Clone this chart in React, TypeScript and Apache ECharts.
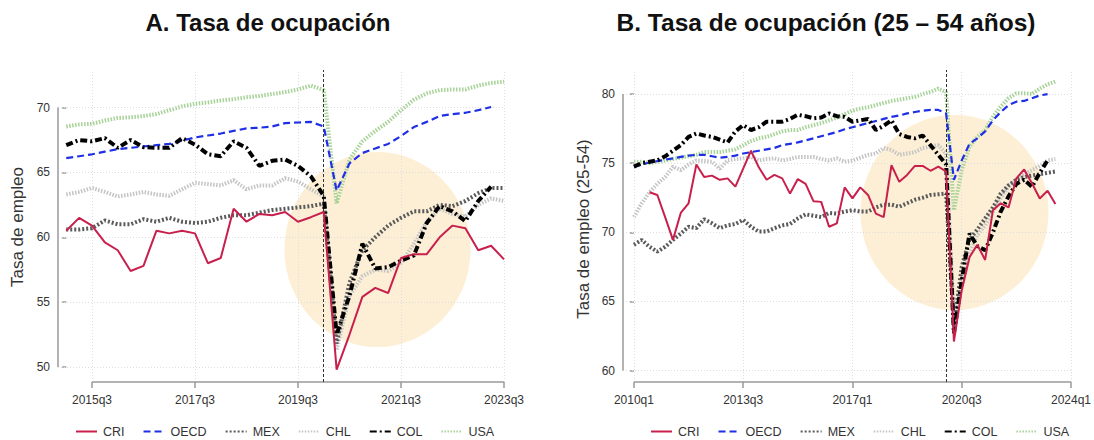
import React, { useEffect, useRef } from "react";
import * as echarts from "echarts";

// ---------- Panel A: 2015q1 .. 2023q3 ----------
const startA = "2015q1";
const endA = "2023q3";
const xTicksA = ["2015q3", "2017q3", "2019q3", "2021q3", "2023q3"];
const yTicksA = [50, 55, 60, 65, 70];

const criA = [60.5, 61.5, 60.9, 59.6, 59.0, 57.4, 57.8, 60.5, 60.3, 60.5, 60.3, 58.0, 58.4, 62.2, 61.2, 61.8, 61.7, 61.95, 61.2, 61.55, 61.95, 49.8, 52.5, 55.4, 56.1, 55.7, 58.4, 58.7, 58.7, 60.0, 60.9, 60.7, 59.0, 59.35, 58.3];
const oecdA = [66.1, 66.25, 66.4, 66.6, 66.8, 66.9, 67.0, 67.1, 67.2, 67.45, 67.7, 67.85, 68.0, 68.2, 68.4, 68.45, 68.55, 68.8, 68.85, 68.9, 68.55, 63.6, 65.7, 66.5, 66.85, 67.2, 67.8, 68.5, 68.9, 69.35, 69.5, 69.6, 69.8, 70.05, null];
const mexA = [60.6, 60.6, 60.7, 61.3, 61.0, 61.0, 61.4, 61.2, 61.5, 61.2, 61.1, 61.2, 61.5, 61.7, 61.7, 61.9, 62.1, 62.2, 62.3, 62.4, 62.6, 51.8, 56.5, 59.0, 60.0, 60.9, 61.5, 62.0, 62.0, 62.5, 62.4, 62.8, 63.4, 63.8, 63.8];
const chlA = [63.3, 63.5, 63.8, 63.5, 63.15, 63.3, 63.5, 63.3, 63.2, 63.7, 64.2, 64.1, 64.0, 64.4, 63.7, 64.0, 64.0, 64.55, 64.3, 63.7, 63.15, 51.3, 55.5, 57.0, 57.5, 57.4, 58.0, 59.5, 61.2, 62.2, 61.8, 61.6, 62.5, 63.0, 62.8];
const colA = [67.1, 67.5, 67.4, 67.65, 66.9, 67.5, 66.95, 66.9, 66.9, 67.65, 67.15, 66.4, 66.25, 67.4, 66.9, 65.5, 65.9, 66.0, 65.5, 64.7, 63.2, 52.5, 55.5, 59.5, 57.6, 57.7, 58.2, 58.6, 61.1, 62.4, 62.0, 61.25, 62.8, 63.9, null];
const usaA = [68.55, 68.7, 68.75, 69.0, 69.2, 69.25, 69.35, 69.5, 69.8, 70.1, 70.3, 70.4, 70.55, 70.65, 70.8, 70.9, 71.05, 71.2, 71.4, 71.7, 71.35, 62.6, 66.0, 67.4, 68.2, 68.9, 69.8, 70.6, 71.1, 71.35, 71.4, 71.4, 71.7, 71.9, 72.0];
const highlightA = { quarter: 24.17, value: 59.06 };

// ---------- Panel B: 2010q1 .. 2023q3 ----------
const startB = "2010q1";
const endB = "2023q3";
const xTicksB = ["2010q1", "2013q3", "2017q1", "2020q3", "2024q1"];
const yTicksB = [60, 65, 70, 75, 80];

const criB = [null, null, 72.9, 72.7, 71.1, 69.45, 71.4, 72.1, 74.9, 74.0, 74.1, 73.8, 73.9, 73.3, 74.6, 75.9, 74.7, 73.8, 74.15, 73.9, 72.8, 73.85, 73.5, 72.25, 72.2, 70.4, 70.65, 73.25, 72.45, 73.25, 72.7, 71.35, 71.1, 74.85, 73.65, 74.15, 74.8, 74.8, 74.45, 74.75, 74.4, 62.1, 65.8, 68.2, 69.1, 68.0, 71.6, 72.1, 71.8, 73.9, 74.55, 73.55, 72.45, 73.0, 72.05];
const oecdB = [74.75, 74.9, 75.05, 75.15, 75.25, 75.35, 75.45, 75.55, 75.6, 75.6, 75.5, 75.4, 75.45, 75.55, 75.7, 75.8, 75.9, 76.0, 76.1, 76.3, 76.4, 76.5, 76.65, 76.8, 76.95, 77.1, 77.25, 77.45, 77.6, 77.75, 77.9, 78.05, 78.2, 78.35, 78.45, 78.6, 78.7, 78.8, 78.85, 78.85, 78.6, 73.8, 75.2, 76.4, 76.8, 77.3, 78.1, 78.7, 79.2, 79.45, 79.5, 79.7, 79.9, 80.0, null];
const mexB = [69.1, 69.45, 68.95, 68.6, 68.95, 69.45, 69.9, 70.4, 70.3, 70.95, 70.65, 70.3, 70.5, 70.6, 70.9, 70.4, 70.05, 70.05, 70.3, 70.5, 70.6, 71.0, 71.3, 71.2, 71.1, 71.4, 71.35, 71.5, 71.6, 71.5, 71.5, 71.8, 72.0, 72.0, 71.85, 72.1, 72.35, 72.5, 72.7, 72.75, 72.8, 63.2, 67.5, 69.5, 70.2, 71.0, 71.8, 72.8, 73.4, 73.8, 74.0, 74.1, 74.2, 74.3, 74.4];
const chlB = [71.1, 72.1, 72.9, 73.5, 74.0, 74.75, 74.5, 74.9, 75.2, 75.15, 75.1, 74.6, 75.2, 75.3, 75.35, 75.45, 75.2, 75.3, 75.35, 75.2, 75.3, 75.45, 75.45, 75.45, 75.3, 75.2, 75.35, 75.1, 75.2, 75.4, 75.6, 75.7, 76.1, 75.95, 75.6, 75.7, 75.8, 76.1, 76.2, 76.3, 75.7, 63.8, 66.0, 68.5, 69.8, 70.5, 71.5, 72.5, 73.3, 73.8, 74.2, 74.5, 74.8, 75.2, 75.3];
const colB = [74.75, 75.0, 75.1, 75.2, 75.5, 75.9, 76.3, 76.9, 77.15, 77.0, 76.9, 76.7, 76.5, 77.3, 77.75, 77.4, 77.6, 78.0, 78.0, 78.0, 78.2, 78.5, 78.4, 78.25, 78.3, 78.6, 78.4, 78.35, 78.0, 78.1, 78.2, 77.4, 77.7, 78.1, 77.1, 76.9, 76.8, 77.0, 76.3, 75.6, 74.9, 62.7, 66.5, 69.9, 69.0, 68.7, 70.0, 71.5, 72.6, 73.5, 73.8, 73.3, 74.3, 75.2, null];
const usaB = [75.1, 75.1, 75.0, 75.1, 75.2, 75.3, 75.4, 75.5, 75.6, 75.8, 75.8, 75.8, 75.9, 76.0, 76.3, 76.6, 76.8, 76.9, 77.1, 77.3, 77.4, 77.4, 77.6, 77.75, 77.9, 78.1, 78.3, 78.55, 78.8, 78.95, 79.05, 79.2, 79.35, 79.5, 79.6, 79.7, 79.8, 80.0, 80.15, 80.4, 80.15, 71.6, 74.5, 76.2, 76.9, 77.4, 78.35, 79.1, 79.7, 80.05, 80.05, 80.0, 80.4, 80.7, 80.9];
const highlightB = { quarter: 41.07, value: 71.43 };

const covidQuarter = "2020q1";
const seriesNames = ["CRI", "OECD", "MEX", "CHL", "COL", "USA"];

// ---------- helpers ----------
const parseQ = (s: string) => {
  const [y, q] = s.split("q").map(Number);
  return { y, q };
};
const qIndex = (label: string, start: string) => {
  const a = parseQ(label);
  const b = parseQ(start);
  return (a.y - b.y) * 4 + (a.q - b.q);
};
const qLabel = (idx: number, start: string) => {
  const b = parseQ(start);
  const n = Math.round(idx) + (b.q - 1);
  return `${b.y + Math.floor(n / 4)}q${(n % 4) + 1}`;
};
const toPairs = (vals: (number | null)[]) => vals.map((v, i) => [i, v]);

const FONT = '"Liberation Sans", Arial, sans-serif';

const styles: Record<string, any> = {
  CRI: { color: "#c8204c", width: 2, type: "solid", z: 9 },
  OECD: { color: "#1f2fe6", width: 2.2, type: [7, 4], z: 7 },
  MEX: { color: "#5a5a5a", width: 4, type: [2, 2], z: 5 },
  CHL: { color: "#c4c4c4", width: 4, type: [1.5, 1.5], z: 4 },
  COL: { color: "#000000", width: 4, type: [7, 3, 2, 3], z: 8 },
  USA: { color: "#a7d298", width: 4, type: [1.5, 1.5], z: 3 },
};

function buildPanel(
  idx: number,
  start: string,
  xTicks: string[],
  yTicks: number[],
  xMin: number,
  xMax: number,
  yMin: number,
  yMax: number,
  data: Record<string, (number | null)[]>,
  highlight: { quarter: number; value: number },
  circleSize: number[]
) {
  const xt = xTicks.map((t) => qIndex(t, start));
  const series: any[] = [];
  series.push({
    type: "scatter",
    xAxisIndex: idx,
    yAxisIndex: idx,
    data: [[highlight.quarter, highlight.value]],
    symbol: "circle",
    symbolSize: circleSize,
    itemStyle: { color: "rgba(249, 212, 138, 0.45)" },
    silent: true,
    z: 1,
  });
  const gridStyle = { color: "#dedede", width: 1, type: [1, 2] };
  const axisStyle = { color: "#9a9a9a", width: 1.5, type: "solid" };
  series.push({
    type: "line",
    xAxisIndex: idx,
    yAxisIndex: idx,
    data: [[xMin, yMin]],
    showSymbol: false,
    lineStyle: { opacity: 0 },
    silent: true,
    clip: false,
    z: 2,
    markLine: {
      symbol: ["none", "none"],
      silent: true,
      animation: false,
      label: { show: false },
      data: [
        ...yTicks.map((v) => ({ yAxis: v, lineStyle: gridStyle })),
        ...xt.map((v) => ({ xAxis: v, lineStyle: gridStyle })),
        [
          { coord: [xt[0], yMin], lineStyle: axisStyle },
          { coord: [xt[xt.length - 1], yMin] },
        ],
        [
          { coord: [xMin, yTicks[0]], lineStyle: axisStyle },
          { coord: [xMin, yTicks[yTicks.length - 1]] },
        ],
      ],
    },
  });
  series.push({
    type: "line",
    xAxisIndex: idx,
    yAxisIndex: idx,
    data: [[xMin, yMin]],
    showSymbol: false,
    lineStyle: { opacity: 0 },
    silent: true,
    z: 6,
    markLine: {
      symbol: ["none", "none"],
      silent: true,
      animation: false,
      label: { show: false },
      data: [{ xAxis: qIndex(covidQuarter, start), lineStyle: { color: "#333", width: 1, type: [3, 2] } }],
    },
  });
  seriesNames.forEach((name) => {
    const s = styles[name];
    series.push({
      name,
      type: "line",
      xAxisIndex: idx,
      yAxisIndex: idx,
      data: toPairs(data[name]),
      showSymbol: false,
      symbol: "none",
      connectNulls: false,
      lineStyle: { color: s.color, width: s.width, type: s.type, cap: "butt" },
      itemStyle: { color: s.color },
      z: s.z,
    });
  });

  const xAxis = {
    gridIndex: idx,
    type: "value",
    min: xMin,
    max: xMax,
    axisLine: { show: false },
    splitLine: { show: false },
    axisTick: { show: true, customValues: xt, length: 6, lineStyle: { color: "#9a9a9a", width: 1.5 } },
    axisLabel: {
      customValues: xt,
      formatter: (v: number) => qLabel(v, start),
      color: "#333",
      fontSize: 12,
      fontFamily: FONT,
      margin: 12,
    },
  };
  const yAxis = {
    gridIndex: idx,
    type: "value",
    min: yMin,
    max: yMax,
    axisLine: { show: false },
    splitLine: { show: false },
    axisTick: { show: true, customValues: yTicks, length: 4, lineStyle: { color: "#9a9a9a", width: 1.5 } },
    axisLabel: {
      customValues: yTicks,
      color: "#333",
      fontSize: 12,
      fontFamily: FONT,
      margin: 8,
    },
  };
  return { series, xAxis, yAxis };
}

export default function App() {
  const ref = useRef<HTMLDivElement>(null);
  useEffect(() => {
    if (!ref.current) return;
    const chart = echarts.init(ref.current, undefined, { renderer: "svg" });
    const pA = buildPanel(
      0, startA, xTicksA, yTicksA, -0.64, qIndex(endA, startA), 48.84, 72.9,
      { CRI: criA, OECD: oecdA, MEX: mexA, CHL: chlA, COL: colA, USA: usaA },
      highlightA, [186, 195]
    );
    const pB = buildPanel(
      1, startB, xTicksB, yTicksB, -1.4, qIndex("2024q1", startB), 59.17, 81.74,
      { CRI: criB, OECD: oecdB, MEX: mexB, CHL: chlB, COL: colB, USA: usaB },
      highlightB, [188, 195]
    );
    const legendBase = {
      data: seriesNames,
      orient: "horizontal",
      top: 425,
      itemWidth: 21,
      itemHeight: 10,
      itemGap: 18,
      padding: 0,
      itemStyle: { opacity: 0 },
      textStyle: { fontSize: 12.5, color: "#333", fontFamily: FONT, lineHeight: 12, padding: [0, 0, 0, 1] },
      selectedMode: false,
    };
    chart.setOption({
      animation: false,
      backgroundColor: "#ffffff",
      textStyle: { fontFamily: FONT },
      grid: [
        { left: 58, top: 70, width: 446, height: 312 },
        { left: 623, top: 70, width: 450, height: 312 },
      ],
      xAxis: [pA.xAxis, pB.xAxis],
      yAxis: [pA.yAxis, pB.yAxis],
      legend: [
        { ...legendBase, left: 75 },
        { ...legendBase, left: 650 },
      ],
      graphic: [
        {
          type: "text", x: 268, y: 22,
          style: { text: "A. Tasa de ocupación", font: `bold 24px ${FONT}`, fill: "#111", align: "center", verticalAlign: "middle" },
        },
        {
          type: "text", x: 826, y: 22,
          style: { text: "B. Tasa de ocupación (25 – 54 años)", font: `bold 24.5px ${FONT}`, fill: "#111", align: "center", verticalAlign: "middle" },
        },
        {
          type: "text", x: 17, y: 227, rotation: Math.PI / 2,
          style: { text: "Tasa de empleo", font: `17px ${FONT}`, fill: "#333", align: "center", verticalAlign: "middle" },
        },
        {
          type: "text", x: 583, y: 229, rotation: Math.PI / 2,
          style: { text: "Tasa de empleo (25-54)", font: `17px ${FONT}`, fill: "#333", align: "center", verticalAlign: "middle" },
        },
      ],
      series: [...pA.series, ...pB.series],
    });
    return () => chart.dispose();
  }, []);
  return (
    <div
      ref={ref}
      style={{ position: "fixed", left: 0, top: 0, width: 1094, height: 440, background: "#fff" }}
    />
  );
}
